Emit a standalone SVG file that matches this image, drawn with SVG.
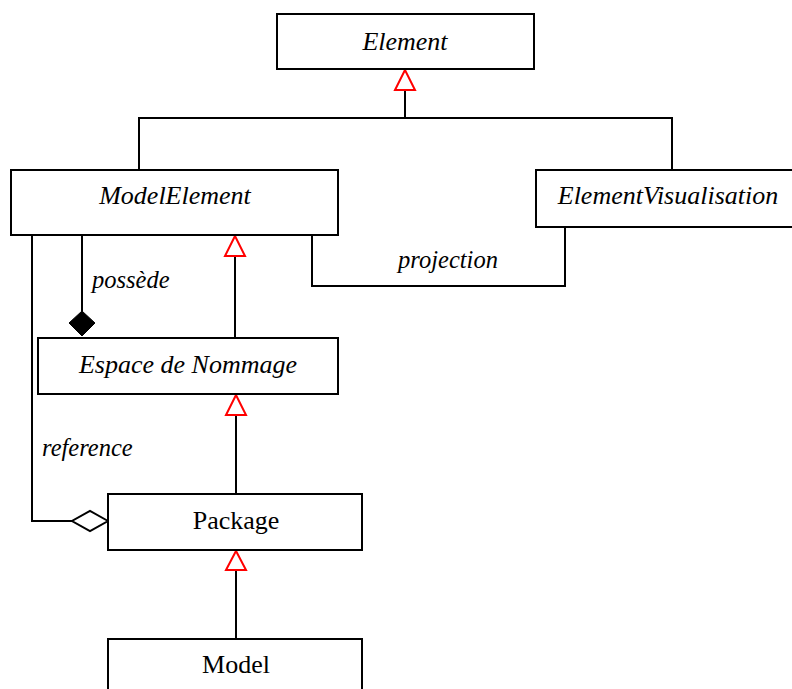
<svg xmlns="http://www.w3.org/2000/svg" width="792" height="689" viewBox="0 0 792 689">
  <style>
    .box { fill: #ffffff; stroke: #000000; stroke-width: 2; }
    .name { font-family: "Liberation Serif", "Times New Roman", serif; font-size: 26px; text-anchor: middle; fill: #000000; }
    .abstract { font-style: italic; }
    .edge { fill: none; stroke: #000000; stroke-width: 2; }
    .gen { fill: #ffffff; stroke: #ff0000; stroke-width: 2; }
    .label { font-family: "Liberation Serif", "Times New Roman", serif; font-size: 24.5px; font-style: italic; fill: #000000; }
  </style>
  <rect width="792" height="689" fill="#ffffff"/>

  <g id="connectors">
    <!-- ModelElement / ElementVisualisation generalize Element -->
    <polyline class="edge" points="139,170 139,118 672,118 672,170"/>
    <line class="edge" x1="405" y1="118" x2="405" y2="90"/>
    <polygon class="gen" points="405,70 395,90 415,90"/>

    <!-- projection association -->
    <polyline class="edge" points="312,235 312,286 565,286 565,227"/>
    <text class="label" x="448" y="268" text-anchor="middle">projection</text>

    <!-- possède composition -->
    <line class="edge" x1="82" y1="235" x2="82" y2="311"/>
    <polygon points="82,311 95,323 82,336 69,323" fill="#000000" stroke="#000000" stroke-width="1"/>
    <text class="label" x="92" y="288">possède</text>

    <!-- Espace de Nommage generalizes ModelElement -->
    <line class="edge" x1="235" y1="256" x2="235" y2="338"/>
    <polygon class="gen" points="235,236 225,256 245,256"/>

    <!-- reference aggregation -->
    <polyline class="edge" points="32,235 32,521 72,521"/>
    <polygon points="108,521 90,511 72,521 90,531" fill="#ffffff" stroke="#000000" stroke-width="2"/>
    <text class="label" x="42" y="456">reference</text>

    <!-- Package generalizes Espace de Nommage -->
    <line class="edge" x1="236" y1="415" x2="236" y2="494"/>
    <polygon class="gen" points="236,395 226,415 246,415"/>

    <!-- Model generalizes Package -->
    <line class="edge" x1="236" y1="570" x2="236" y2="639"/>
    <polygon class="gen" points="236,551 226,570 246,570"/>
  </g>

  <g id="element">
    <rect class="box" x="277" y="14" width="257" height="55"/>
    <text class="name abstract" x="405" y="50">Element</text>
  </g>

  <g id="model-element">
    <rect class="box" x="11" y="170" width="327" height="65"/>
    <text class="name abstract" x="175" y="204">ModelElement</text>
  </g>

  <g id="element-visualisation">
    <rect class="box" x="536" y="170" width="270" height="57"/>
    <text class="name abstract" x="668" y="204">ElementVisualisation</text>
  </g>

  <g id="espace-de-nommage">
    <rect class="box" x="38" y="338" width="300" height="56"/>
    <text class="name abstract" x="188" y="373">Espace de Nommage</text>
  </g>

  <g id="package">
    <rect class="box" x="108" y="494" width="254" height="56"/>
    <text class="name" x="236" y="529">Package</text>
  </g>

  <g id="model">
    <rect class="box" x="108" y="639" width="254" height="60"/>
    <text class="name" x="236" y="673">Model</text>
  </g>
</svg>
